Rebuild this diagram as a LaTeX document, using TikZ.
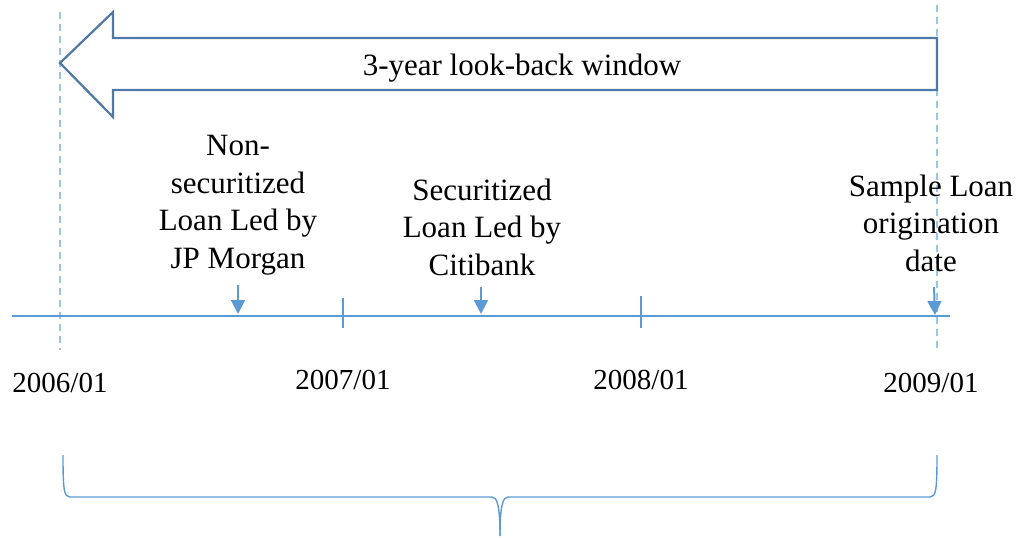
\documentclass[tikz,border=0pt]{standalone}
\usepackage{fontspec}
\setmainfont{Liberation Serif}
\usetikzlibrary{arrows.meta}
\definecolor{arrowblue}{HTML}{4F78A8}
\definecolor{lineblue}{HTML}{5B9BD5}
\definecolor{dashblue}{HTML}{9DC3E6}
\tikzset{
  lbl/.style={align=center, font=\fontsize{31}{37.5}\selectfont, inner sep=0pt},
  datelbl/.style={font=\fontsize{29}{35}\selectfont, inner sep=0pt},
  axis/.style={draw=lineblue, line width=1.6pt},
  tickmark/.style={draw=lineblue, line width=1.3pt},
  guide/.style={draw=dashblue, line width=1.5pt, dash pattern=on 7pt off 5pt},
  pointer/.style={draw=lineblue, line width=2pt, -{Triangle[width=14pt,length=14pt]}},
  bigarrow/.style={draw=arrowblue, line width=2.2pt, line join=miter},
  bracestyle/.style={draw=lineblue, line width=1.4pt}
}
\begin{document}
\begin{tikzpicture}[x=1pt,y=-1pt]
\useasboundingbox (0,0) rectangle (1018,538);
% dashed guides
\coordinate (g1t) at (60,12); \coordinate (g1b) at (60,350);
\coordinate (g2t) at (937,5); \coordinate (g2b) at (937,348);
\draw[guide] (g1t) -- (g1b);
\draw[guide] (g2t) -- (g2b);
% big arrow
\draw[bigarrow] (937,38) -- (113,38) -- (113,12) -- (60,63) -- (113,117) -- (113,90) -- (937,90) -- cycle;
\node[lbl] (window) at (522,68) {3-year look-back window};
% timeline
\coordinate (tl) at (12,316); \coordinate (tr) at (950,316);
\draw[axis] (tl) -- (tr);
\coordinate (t1a) at (343,298); \coordinate (t1b) at (343,328);
\coordinate (t2a) at (641,296); \coordinate (t2b) at (641,328);
\draw[tickmark] (t1a) -- (t1b);
\draw[tickmark] (t2a) -- (t2b);
% labels
\node[lbl] (jpm) at (238,205) {Non-\\securitized\\Loan Led by\\JP Morgan};
\node[lbl] (citi) at (482,227) {Securitized\\Loan Led by\\Citibank};
\node[lbl] (sample) at (931,223) {Sample Loan\\origination\\date};
% pointers
\coordinate (p1a) at (238,285); \coordinate (p1b) at (238,314);
\coordinate (p2a) at (481,287); \coordinate (p2b) at (481,314);
\coordinate (p3a) at (934,287); \coordinate (p3b) at (935,315);
\draw[pointer] (p1a) -- (p1b);
\draw[pointer] (p2a) -- (p2b);
\draw[pointer] (p3a) -- (p3b);
% dates
\node[datelbl] (d1) at (60,383) {2006/01};
\node[datelbl] (d2) at (343,380) {2007/01};
\node[datelbl] (d3) at (641,380) {2008/01};
\node[datelbl] (d4) at (931,383) {2009/01};
% brace
\draw[bracestyle] (63,455) .. controls (63,490) and (64,497) .. (70,497) -- (492,497) .. controls (497,497) and (500,505) .. (500,536);
\draw[bracestyle] (937,455) .. controls (937,490) and (936,497) .. (930,497) -- (508,497) .. controls (503,497) and (500,505) .. (500,536);
\end{tikzpicture}
\end{document}
